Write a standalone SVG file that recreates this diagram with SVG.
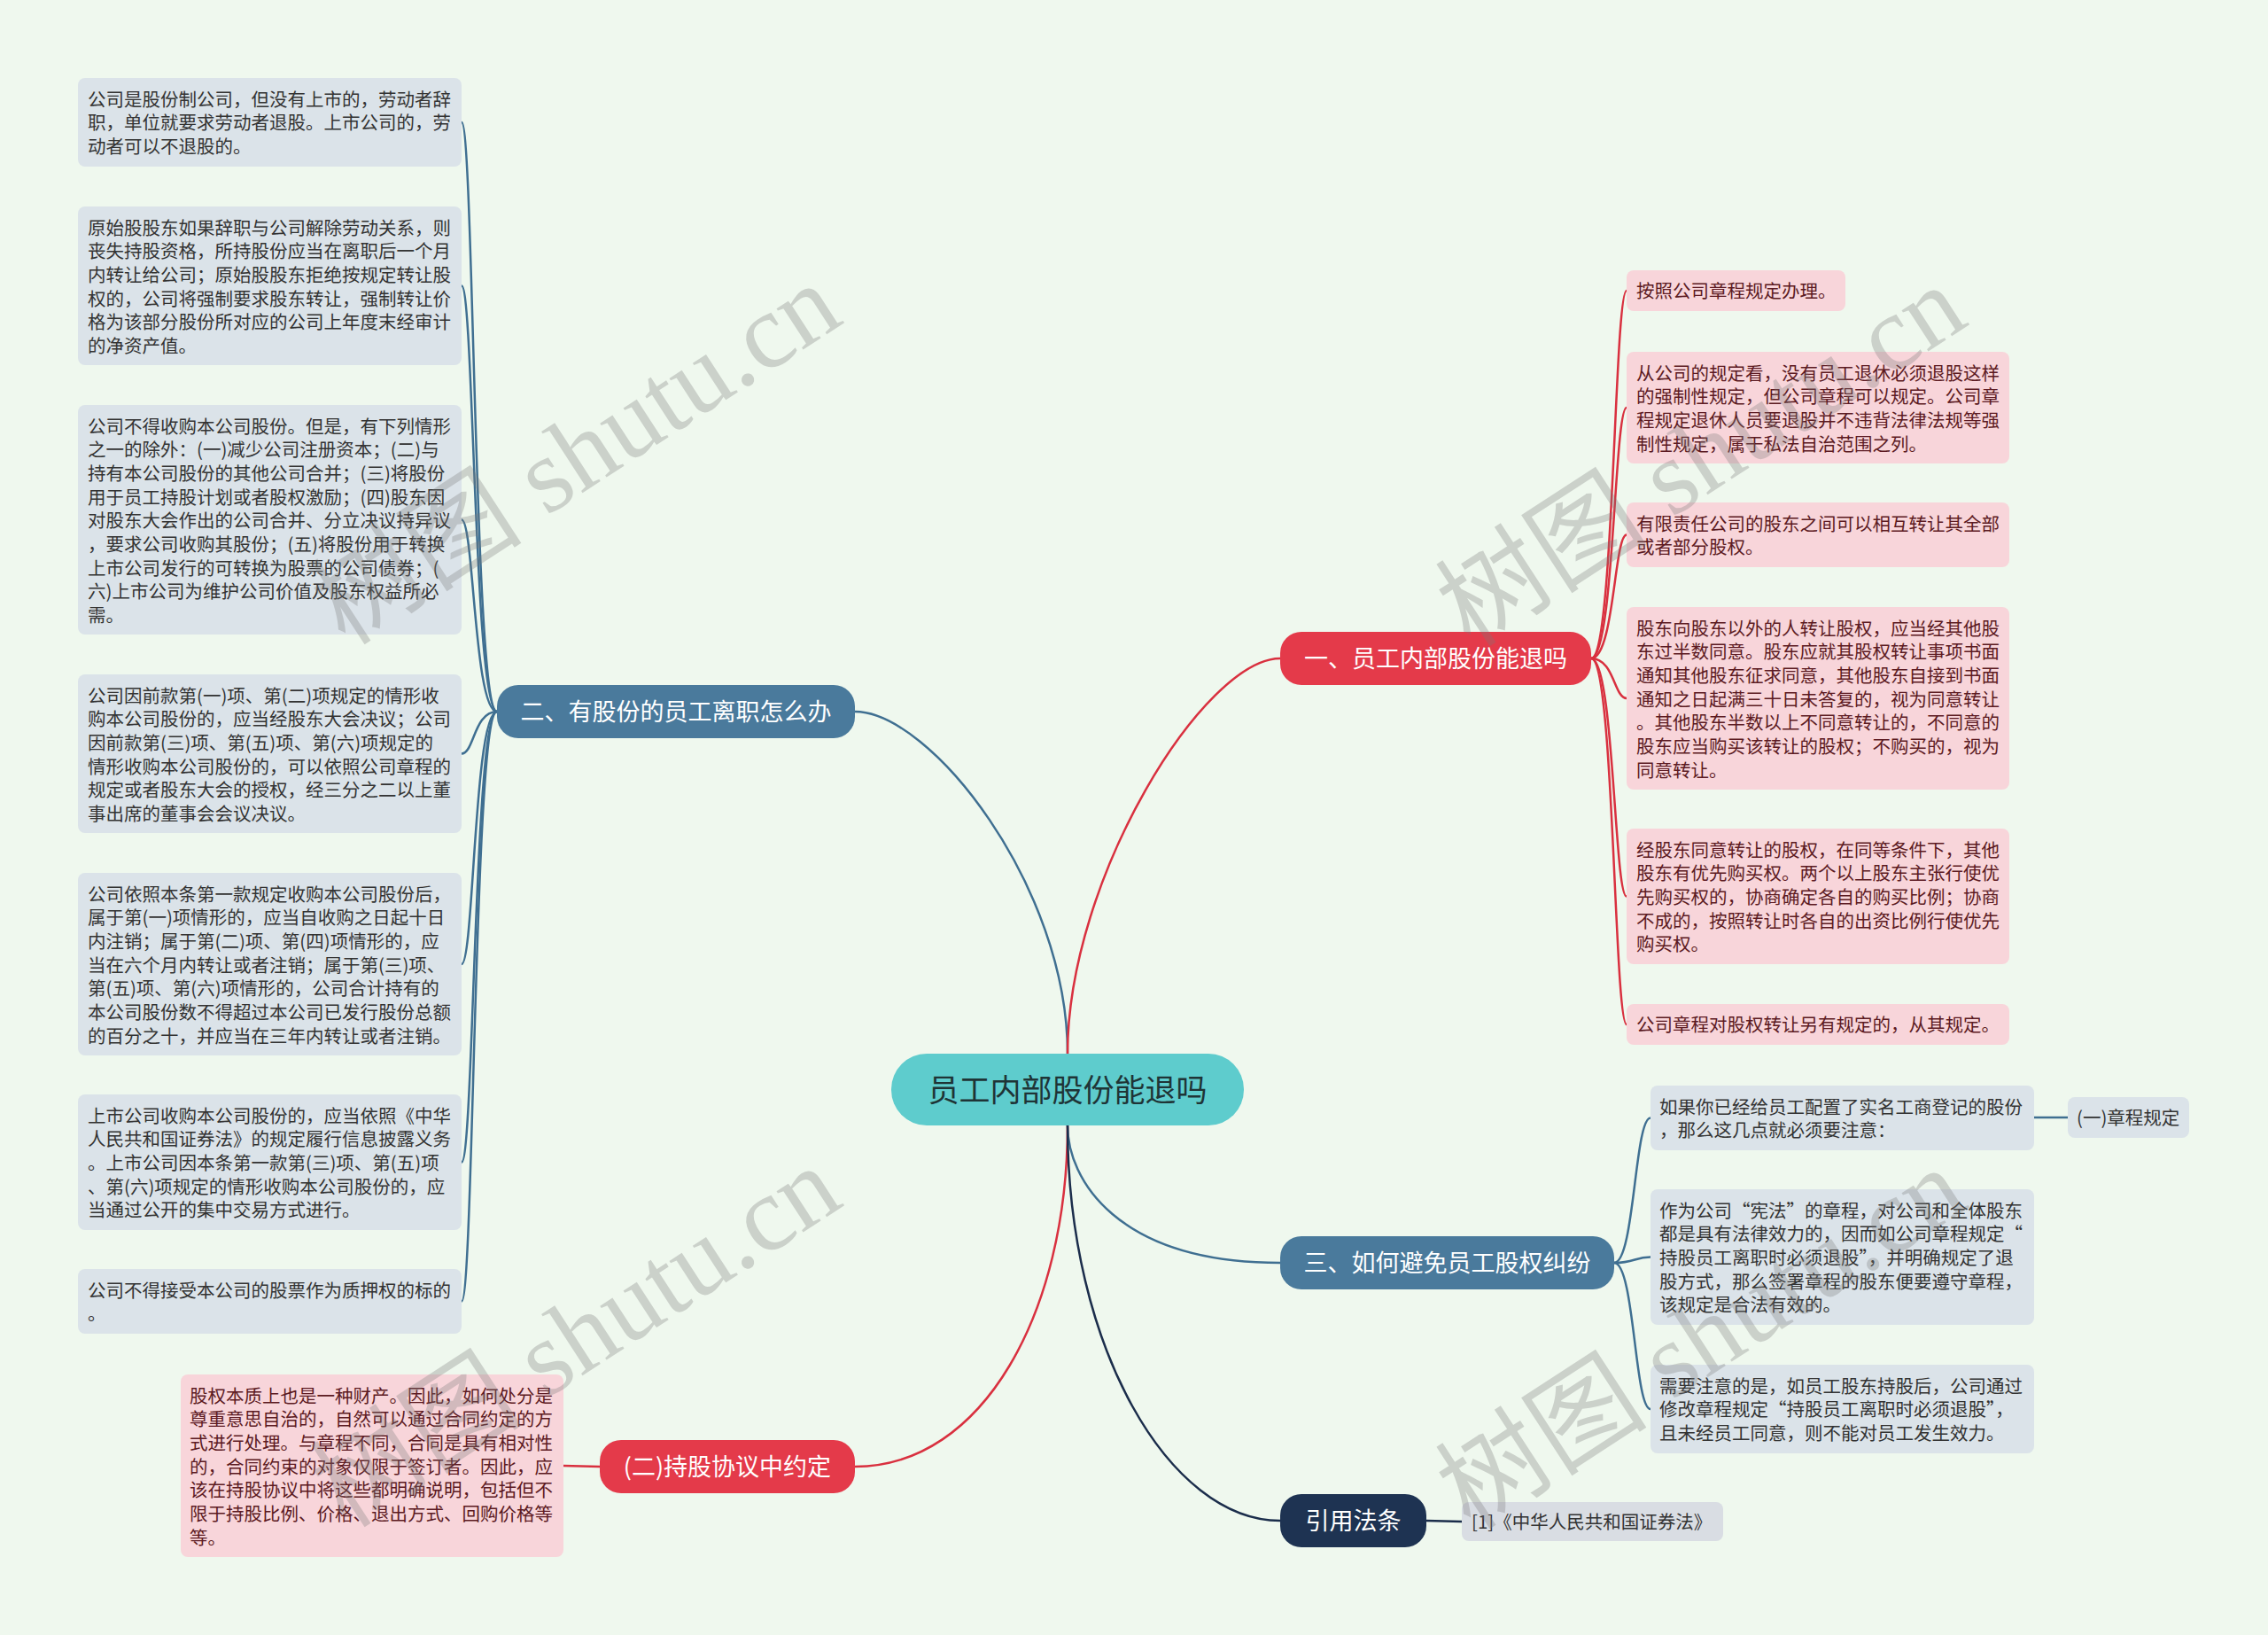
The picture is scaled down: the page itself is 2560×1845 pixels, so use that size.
<svg xmlns="http://www.w3.org/2000/svg" width="2560" height="1845" viewBox="0 0 2560 1845">
<style>
.bg{fill:#eff8ee}
.lb{fill:#dbe3e9}
.pk{fill:#f8d5da}
.t{font-family:"Noto Sans CJK SC","Noto Sans",sans-serif;font-size:20.5px;fill:#333333}
.tp{font-family:"Noto Sans CJK SC","Noto Sans",sans-serif;font-size:20.5px;fill:#5c1a22}
.nt{font-family:"Noto Sans CJK SC","Noto Sans",sans-serif;font-size:27px;fill:#ffffff;text-anchor:middle}
.ct{font-family:"Noto Sans CJK SC","Noto Sans",sans-serif;font-size:35px;fill:#1f3436;text-anchor:middle}
.blue{fill:#4a7a9c}
.red{fill:#e43a4a}
.navy{fill:#1e3352}
.cb{stroke:#3f6f91;fill:none;stroke-width:2.5}
.cr{stroke:#d9303f;fill:none;stroke-width:2.5}
.cn{stroke:#1b2d4b;fill:none;stroke-width:2.5}
.wm{font-family:"Liberation Serif","Noto Sans CJK SC",serif;font-size:120px;fill:#7a7a7a;opacity:0.3}
</style>
<rect class="bg" x="0" y="0" width="2560" height="1845"/>

<g id="connectors">
  <path class="cb" d="M1205,1189 C1205,1000 1050,803 965,803" stroke-width="3"/>
  <path class="cr" d="M1205,1189 C1205,990 1360,743 1445,743" stroke-width="3"/>
  <path class="cb" d="M1205,1270 C1205,1330 1260,1425 1445,1425" stroke-width="3"/>
  <path class="cr" d="M1205,1270 C1205,1480 1110,1655 965,1655" stroke-width="3"/>
  <path class="cn" d="M1205,1270 C1205,1520 1320,1716 1445,1716" stroke-width="3"/>

  <path class="cb" d="M561,803 C535,803 535,138 521,138"/>
  <path class="cb" d="M561,803 C535,803 535,322.5 521,322.5"/>
  <path class="cb" d="M561,803 C535,803 535,586.5 521,586.5"/>
  <path class="cb" d="M561,803 C535,803 535,850.5 521,850.5"/>
  <path class="cb" d="M561,803 C535,803 535,1088 521,1088"/>
  <path class="cb" d="M561,803 C535,803 535,1311.5 521,1311.5"/>
  <path class="cb" d="M561,803 C535,803 535,1468.5 521,1468.5"/>

  <path class="cr" d="M1796,743 C1822,743 1822,328 1836,328"/>
  <path class="cr" d="M1796,743 C1822,743 1822,460 1836,460"/>
  <path class="cr" d="M1796,743 C1822,743 1822,603.5 1836,603.5"/>
  <path class="cr" d="M1796,743 C1822,743 1822,788 1836,788"/>
  <path class="cr" d="M1796,743 C1822,743 1822,1011.5 1836,1011.5"/>
  <path class="cr" d="M1796,743 C1822,743 1822,1156 1836,1156"/>

  <path class="cb" d="M1822,1425 C1845,1425 1845,1261.5 1863,1261.5"/>
  <path class="cb" d="M1822,1425 C1845,1425 1845,1418.5 1863,1418.5"/>
  <path class="cb" d="M1822,1425 C1845,1425 1845,1590 1863,1590"/>
  <path class="cb" d="M2296,1261 L2334,1261"/>

  <path class="cr" d="M677,1655 L636,1654"/>
  <path class="cn" d="M1610,1716 L1650,1717"/>
</g>

<g id="center">
  <rect x="1006" y="1189" width="398" height="81" rx="40" fill="#5ecccd"/>
  <text class="ct" x="1205" y="1242.5">员工内部股份能退吗</text>
</g>

<g id="branch-2">
  <rect class="blue" x="561" y="773" width="404" height="60" rx="24"/>
  <text class="nt" x="763" y="813.3">二、有股份的员工离职怎么办</text>
</g>
<g id="branch-1">
  <rect class="red" x="1445" y="713" width="351" height="60" rx="24"/>
  <text class="nt" x="1620.5" y="753.3">一、员工内部股份能退吗</text>
</g>
<g id="branch-3">
  <rect class="blue" x="1445" y="1395" width="377" height="60" rx="24"/>
  <text class="nt" x="1633.5" y="1435.3">三、如何避免员工股权纠纷</text>
</g>
<g id="branch-agreement">
  <rect class="red" x="677" y="1625" width="288" height="60" rx="24"/>
  <text class="nt" x="821" y="1665.3">(二)持股协议中约定</text>
</g>
<g id="branch-law">
  <rect class="navy" x="1445" y="1686" width="165" height="60" rx="24"/>
  <text class="nt" x="1527.5" y="1726.3">引用法条</text>
</g>

<g id="l1">
  <rect class="lb" x="88" y="88" width="433" height="100" rx="8"/>
  <text class="t"><tspan x="99" y="119.5">公司是股份制公司，但没有上市的，劳动者辞</tspan><tspan x="99" y="146.2">职，单位就要求劳动者退股。上市公司的，劳</tspan><tspan x="99" y="172.9">动者可以不退股的。</tspan></text>
</g>
<g id="l2">
  <rect class="lb" x="88" y="233" width="433" height="179" rx="8"/>
  <text class="t"><tspan x="99" y="264.5">原始股股东如果辞职与公司解除劳动关系，则</tspan><tspan x="99" y="291.2">丧失持股资格，所持股份应当在离职后一个月</tspan><tspan x="99" y="317.9">内转让给公司；原始股股东拒绝按规定转让股</tspan><tspan x="99" y="344.6">权的，公司将强制要求股东转让，强制转让价</tspan><tspan x="99" y="371.3">格为该部分股份所对应的公司上年度末经审计</tspan><tspan x="99" y="398">的净资产值。</tspan></text>
</g>
<g id="l3">
  <rect class="lb" x="88" y="457" width="433" height="259" rx="8"/>
  <text class="t"><tspan x="99" y="488.5">公司不得收购本公司股份。但是，有下列情形</tspan><tspan x="99" y="515.2">之一的除外：(一)减少公司注册资本；(二)与</tspan><tspan x="99" y="541.9">持有本公司股份的其他公司合并；(三)将股份</tspan><tspan x="99" y="568.6">用于员工持股计划或者股权激励；(四)股东因</tspan><tspan x="99" y="595.3">对股东大会作出的公司合并、分立决议持异议</tspan><tspan x="99" y="622">，要求公司收购其股份；(五)将股份用于转换</tspan><tspan x="99" y="648.7">上市公司发行的可转换为股票的公司债券；(</tspan><tspan x="99" y="675.4">六)上市公司为维护公司价值及股东权益所必</tspan><tspan x="99" y="702.1">需。</tspan></text>
</g>
<g id="l4">
  <rect class="lb" x="88" y="761" width="433" height="179" rx="8"/>
  <text class="t"><tspan x="99" y="792.5">公司因前款第(一)项、第(二)项规定的情形收</tspan><tspan x="99" y="819.2">购本公司股份的，应当经股东大会决议；公司</tspan><tspan x="99" y="845.9">因前款第(三)项、第(五)项、第(六)项规定的</tspan><tspan x="99" y="872.6">情形收购本公司股份的，可以依照公司章程的</tspan><tspan x="99" y="899.3">规定或者股东大会的授权，经三分之二以上董</tspan><tspan x="99" y="926">事出席的董事会会议决议。</tspan></text>
</g>
<g id="l5">
  <rect class="lb" x="88" y="985" width="433" height="206" rx="8"/>
  <text class="t"><tspan x="99" y="1016.5">公司依照本条第一款规定收购本公司股份后，</tspan><tspan x="99" y="1043.2">属于第(一)项情形的，应当自收购之日起十日</tspan><tspan x="99" y="1069.9">内注销；属于第(二)项、第(四)项情形的，应</tspan><tspan x="99" y="1096.6">当在六个月内转让或者注销；属于第(三)项、</tspan><tspan x="99" y="1123.3">第(五)项、第(六)项情形的，公司合计持有的</tspan><tspan x="99" y="1150">本公司股份数不得超过本公司已发行股份总额</tspan><tspan x="99" y="1176.7">的百分之十，并应当在三年内转让或者注销。</tspan></text>
</g>
<g id="l6">
  <rect class="lb" x="88" y="1235" width="433" height="153" rx="8"/>
  <text class="t"><tspan x="99" y="1266.5">上市公司收购本公司股份的，应当依照《中华</tspan><tspan x="99" y="1293.2">人民共和国证券法》的规定履行信息披露义务</tspan><tspan x="99" y="1319.9">。上市公司因本条第一款第(三)项、第(五)项</tspan><tspan x="99" y="1346.6">、第(六)项规定的情形收购本公司股份的，应</tspan><tspan x="99" y="1373.3">当通过公开的集中交易方式进行。</tspan></text>
</g>
<g id="l7">
  <rect class="lb" x="88" y="1432" width="433" height="73" rx="8"/>
  <text class="t"><tspan x="99" y="1463.5">公司不得接受本公司的股票作为质押权的标的</tspan><tspan x="99" y="1490.2">。</tspan></text>
</g>

<g id="r1">
  <rect class="pk" x="1836" y="305" width="247" height="46" rx="8"/>
  <text class="tp" x="1847" y="335.8">按照公司章程规定办理。</text>
</g>
<g id="r2">
  <rect class="pk" x="1836" y="397" width="432" height="126" rx="8"/>
  <text class="tp"><tspan x="1847" y="428.5">从公司的规定看，没有员工退休必须退股这样</tspan><tspan x="1847" y="455.2">的强制性规定，但公司章程可以规定。公司章</tspan><tspan x="1847" y="481.9">程规定退休人员要退股并不违背法律法规等强</tspan><tspan x="1847" y="508.6">制性规定，属于私法自治范围之列。</tspan></text>
</g>
<g id="r3">
  <rect class="pk" x="1836" y="567" width="432" height="73" rx="8"/>
  <text class="tp"><tspan x="1847" y="598.5">有限责任公司的股东之间可以相互转让其全部</tspan><tspan x="1847" y="625.2">或者部分股权。</tspan></text>
</g>
<g id="r4">
  <rect class="pk" x="1836" y="685" width="432" height="206" rx="8"/>
  <text class="tp"><tspan x="1847" y="716.5">股东向股东以外的人转让股权，应当经其他股</tspan><tspan x="1847" y="743.2">东过半数同意。股东应就其股权转让事项书面</tspan><tspan x="1847" y="769.9">通知其他股东征求同意，其他股东自接到书面</tspan><tspan x="1847" y="796.6">通知之日起满三十日未答复的，视为同意转让</tspan><tspan x="1847" y="823.3">。其他股东半数以上不同意转让的，不同意的</tspan><tspan x="1847" y="850">股东应当购买该转让的股权；不购买的，视为</tspan><tspan x="1847" y="876.7">同意转让。</tspan></text>
</g>
<g id="r5">
  <rect class="pk" x="1836" y="935" width="432" height="153" rx="8"/>
  <text class="tp"><tspan x="1847" y="966.5">经股东同意转让的股权，在同等条件下，其他</tspan><tspan x="1847" y="993.2">股东有优先购买权。两个以上股东主张行使优</tspan><tspan x="1847" y="1019.9">先购买权的，协商确定各自的购买比例；协商</tspan><tspan x="1847" y="1046.6">不成的，按照转让时各自的出资比例行使优先</tspan><tspan x="1847" y="1073.3">购买权。</tspan></text>
</g>
<g id="r6">
  <rect class="pk" x="1836" y="1133" width="432" height="46" rx="8"/>
  <text class="tp" x="1847" y="1163.8">公司章程对股权转让另有规定的，从其规定。</text>
</g>

<g id="s1">
  <rect class="lb" x="1863" y="1225" width="433" height="73" rx="8"/>
  <text class="t"><tspan x="1873" y="1256.5">如果你已经给员工配置了实名工商登记的股份</tspan><tspan x="1873" y="1283.2">，那么这几点就必须要注意：</tspan></text>
</g>
<g id="s1a">
  <rect class="lb" x="2334" y="1238" width="137" height="46" rx="8"/>
  <text class="t" x="2344" y="1268.8">(一)章程规定</text>
</g>
<g id="s2">
  <rect class="lb" x="1863" y="1342" width="433" height="153" rx="8"/>
  <text class="t"><tspan x="1873" y="1373.5">作为公司“宪法”的章程，对公司和全体股东</tspan><tspan x="1873" y="1400.2">都是具有法律效力的，因而如公司章程规定“</tspan><tspan x="1873" y="1426.9">持股员工离职时必须退股”，并明确规定了退</tspan><tspan x="1873" y="1453.6">股方式，那么签署章程的股东便要遵守章程，</tspan><tspan x="1873" y="1480.3">该规定是合法有效的。</tspan></text>
</g>
<g id="s3">
  <rect class="lb" x="1863" y="1540" width="433" height="100" rx="8"/>
  <text class="t"><tspan x="1873" y="1571.5">需要注意的是，如员工股东持股后，公司通过</tspan><tspan x="1873" y="1598.2">修改章程规定“持股员工离职时必须退股”，</tspan><tspan x="1873" y="1624.9">且未经员工同意，则不能对员工发生效力。</tspan></text>
</g>

<g id="a1">
  <rect class="pk" x="204" y="1551" width="432" height="206" rx="8"/>
  <text class="tp"><tspan x="214" y="1582.5">股权本质上也是一种财产。因此，如何处分是</tspan><tspan x="214" y="1609.2">尊重意思自治的，自然可以通过合同约定的方</tspan><tspan x="214" y="1635.9">式进行处理。与章程不同，合同是具有相对性</tspan><tspan x="214" y="1662.6">的，合同约束的对象仅限于签订者。因此，应</tspan><tspan x="214" y="1689.3">该在持股协议中将这些都明确说明，包括但不</tspan><tspan x="214" y="1716">限于持股比例、价格、退出方式、回购价格等</tspan><tspan x="214" y="1742.7">等。</tspan></text>
</g>

<g id="law1">
  <rect x="1650" y="1695" width="295" height="44" rx="8" fill="#d9dde3"/>
  <text class="t" x="1661" y="1724.8">[1]《中华人民共和国证券法》</text>
</g>

<g id="watermarks">
  <text class="wm" transform="translate(390,730) rotate(-33)">树图 shutu.cn</text>
  <text class="wm" transform="translate(1660,732) rotate(-33)">树图 shutu.cn</text>
  <text class="wm" transform="translate(390,1726) rotate(-33)">树图 shutu.cn</text>
  <text class="wm" transform="translate(1660,1728) rotate(-33)">树图 shutu.cn</text>
</g>
</svg>
